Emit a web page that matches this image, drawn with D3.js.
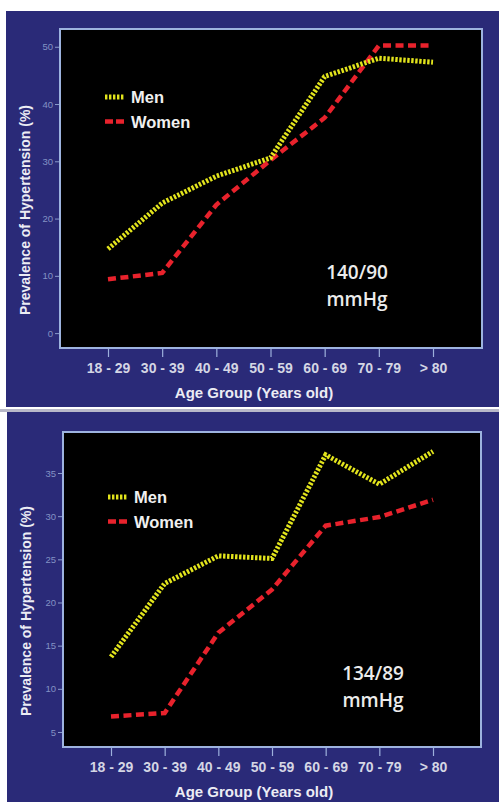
<!DOCTYPE html>
<html><head><meta charset="utf-8">
<script src="https://cdn.jsdelivr.net/npm/d3@7"></script>
<style>
html,body{margin:0;padding:0;background:#fff;}
svg{display:block;}
</style></head>
<body>
<svg id="chart" width="499" height="802"></svg>
<script>
const categories = ["18 - 29","30 - 39","40 - 49","50 - 59","60 - 69","70 - 79","> 80"];
const seriesNames = ["Men","Women"];
// Panel 1: 140/90 mmHg threshold
const men140 = [14.7, 22.7, 27.4, 30.6, 44.8, 48.0, 47.3];
const women140 = [9.4, 10.5, 22.4, 30.2, 37.6, 50.2, 50.2];
const yTicks140 = [0, 10, 20, 30, 40, 50];
// Panel 2: 134/89 mmHg threshold
const men134 = [13.7, 22.2, 25.4, 25.1, 37.1, 33.7, 37.5];
const women134 = [6.8, 7.2, 16.5, 21.5, 28.9, 29.9, 31.9];
const yTicks134 = [5, 10, 15, 20, 25, 30, 35];
const labels = ["140/90", "134/89"];

const svg = d3.select("#chart");
const NAVY = "#2a2a78";
const BORDER = "#9db3df";
const SANS = "Liberation Sans, Arial, sans-serif";

function drawPanel(o) {
  const g = svg.append("g");
  g.append("rect").attr("x", o.px).attr("y", o.py).attr("width", o.pw).attr("height", o.ph).attr("fill", NAVY);
  const x = d3.scalePoint().domain(categories).range([o.x0, o.x1]);
  const y = d3.scaleLinear().domain(o.ydom).range([o.bottom, o.top]);
  g.append("rect").attr("x", o.left).attr("y", o.top).attr("width", o.right - o.left).attr("height", o.bottom - o.top)
    .attr("fill", "#000");
  const ya = g.append("g").attr("transform", `translate(${o.left},0)`)
    .call(d3.axisLeft(y).tickValues(o.ticks).tickSize(5).tickPadding(2));
  ya.select(".domain").remove();
  ya.selectAll("line").attr("stroke", "#8a9ccc").attr("stroke-width", 1);
  ya.selectAll("text").attr("fill", "#8392c4").attr("font-family", SANS).attr("font-size", 9.5);
  const xa = g.append("g").attr("transform", `translate(0,${o.bottom})`)
    .call(d3.axisBottom(x).tickSize(9).tickPadding(6));
  xa.select(".domain").remove();
  xa.selectAll("line").attr("stroke", "#9db0dc").attr("stroke-width", 1.2);
  xa.selectAll("text").attr("fill", "#d4d6e4").attr("font-family", SANS)
    .attr("font-weight", "bold").attr("font-size", 14);
  g.append("path").attr("d", `M${o.left},${o.top}H${o.right}V${o.bottom}H${o.left}Z`)
    .attr("fill", "none").attr("stroke", BORDER).attr("stroke-width", 2);
  const line = d3.line().x((d, i) => x(categories[i])).y(d => y(d));
  g.append("path").datum(o.women).attr("d", line).attr("fill", "none").attr("stroke", "#e8222c")
    .attr("stroke-width", 4.5).attr("stroke-dasharray", "8,4.5");
  g.append("path").datum(o.men).attr("d", line).attr("fill", "none").attr("stroke", "#e2e41c")
    .attr("stroke-width", 5).attr("stroke-dasharray", "2.4,1.6");
  const leg = [{n: seriesNames[0], c: "#e2e41c", d: "2.4,1.6", w: 5}, {n: seriesNames[1], c: "#e8222c", d: "8,3", w: 4.5}];
  leg.forEach((l, i) => {
    const ly = o.legY + i * 24.5;
    g.append("line").attr("x1", o.left + 45).attr("x2", o.left + 64).attr("y1", ly).attr("y2", ly)
      .attr("stroke", l.c).attr("stroke-width", l.w).attr("stroke-dasharray", l.d);
    g.append("text").attr("x", o.left + 71).attr("y", ly + 6).text(l.n)
      .attr("fill", "#f0f0f0").attr("font-family", SANS)
      .attr("font-weight", "bold").attr("font-size", 16.5);
  });
  const ann = g.append("text").attr("text-anchor", "middle").attr("fill", "#ececec")
    .attr("font-family", "Open Sans, sans-serif").attr("font-weight", 600).attr("font-size", 19);
  ann.append("tspan").attr("x", o.annX).attr("y", o.annY).text(o.label);
  ann.append("tspan").attr("x", o.annX).attr("y", o.annY + 27).text("mmHg");
  g.append("text").attr("x", 254).attr("y", o.bottom + 50).attr("text-anchor", "middle")
    .attr("fill", "#ececf4").attr("font-family", SANS).attr("font-weight", "bold")
    .attr("font-size", 15).text("Age Group (Years old)");
  g.append("text").attr("transform", `translate(${o.px + 24},${o.ytitleY}) rotate(-90)`)
    .attr("text-anchor", "middle")
    .attr("fill", "#ececf4").attr("font-family", SANS).attr("font-weight", "bold")
    .attr("font-size", 14).text("Prevalence of Hypertension (%)");
}

svg.append("rect").attr("x", 0).attr("y", 409).attr("width", 499).attr("height", 3).attr("fill", "#b8b8c8");

drawPanel({px: 6, py: 11, pw: 493, ph: 396, left: 60, right: 482, top: 29, bottom: 348,
  x0: 108, x1: 433, ydom: [-2.6, 53.1], ticks: yTicks140, ytitleY: 210,
  men: men140, women: women140, legY: 97, annX: 357, annY: 279, label: labels[0]});
drawPanel({px: 7, py: 412, pw: 492, ph: 390, left: 63, right: 481, top: 432, bottom: 747,
  x0: 111, x1: 433, ydom: [3.26, 39.75], ticks: yTicks134, ytitleY: 611,
  men: men134, women: women134, legY: 497, annX: 373, annY: 680, label: labels[1]});
</script>
</body></html>
